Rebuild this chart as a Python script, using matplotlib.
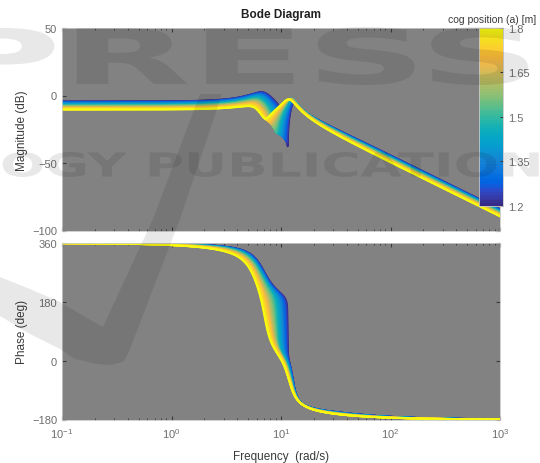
import numpy as np
import matplotlib.pyplot as plt
from matplotlib.colors import ListedColormap, Normalize
from matplotlib.cm import ScalarMappable
from matplotlib.textpath import TextPath
from matplotlib.font_manager import FontProperties
from matplotlib.patches import PathPatch, Polygon
from matplotlib.path import Path

plt.rcParams['font.family'] = ['Liberation Sans', 'DejaVu Sans']
plt.rcParams['mathtext.fontset'] = 'custom'
plt.rcParams['mathtext.rm'] = 'Liberation Sans'
plt.rcParams['mathtext.default'] = 'regular'

# cog positions in the colour bar
cog_pos = np.round(np.arange(1.20, 1.8001, 0.01), 2)

# transfer function parameters at three cog positions
knot_pos = [1.2, 1.5, 1.8]
dc_db = [-4.4, -7.4, -10.5]
w_p1 = [7.0, 6.5, 6.0]
zeta_p1 = [0.22, 0.22, 0.22]
w_z = [11.5, 9.0, 7.1]
zeta_z = [0.004, 0.025, 0.10]
w_p2 = [12.8, 12.3, 11.8]
zeta_p2 = [0.07, 0.10, 0.13]
lead_w = 15.0
lead_ratio = [1.68, 1.40, 1.12]

cbar_ticks = [1.2, 1.35, 1.5, 1.65, 1.8]
x_ticks = [0.1, 1, 10, 100, 1000]
x_labels = ['$10^{-1}$', '$10^{0}$', '$10^{1}$', '$10^{2}$', '$10^{3}$']
mag_ticks = [-100, -50, 0, 50]
phase_ticks = [-180, 0, 180, 360]

# MATLAB parula
parula = [
    [0.2081, 0.1663, 0.5292], [0.2116, 0.1898, 0.5777], [0.2123, 0.2138, 0.6270],
    [0.2081, 0.2386, 0.6771], [0.1959, 0.2645, 0.7279], [0.1707, 0.2919, 0.7792],
    [0.1253, 0.3242, 0.8303], [0.0591, 0.3598, 0.8683], [0.0117, 0.3875, 0.8820],
    [0.0060, 0.4086, 0.8828], [0.0165, 0.4266, 0.8786], [0.0329, 0.4430, 0.8720],
    [0.0498, 0.4586, 0.8641], [0.0629, 0.4737, 0.8554], [0.0723, 0.4887, 0.8467],
    [0.0779, 0.5040, 0.8384], [0.0793, 0.5200, 0.8312], [0.0749, 0.5375, 0.8263],
    [0.0641, 0.5570, 0.8240], [0.0488, 0.5772, 0.8228], [0.0343, 0.5966, 0.8199],
    [0.0265, 0.6137, 0.8135], [0.0239, 0.6287, 0.8038], [0.0231, 0.6418, 0.7913],
    [0.0228, 0.6535, 0.7768], [0.0267, 0.6642, 0.7607], [0.0384, 0.6743, 0.7436],
    [0.0590, 0.6838, 0.7254], [0.0843, 0.6928, 0.7062], [0.1133, 0.7015, 0.6859],
    [0.1453, 0.7098, 0.6646], [0.1801, 0.7177, 0.6424], [0.2178, 0.7250, 0.6193],
    [0.2586, 0.7317, 0.5954], [0.3022, 0.7376, 0.5712], [0.3482, 0.7424, 0.5473],
    [0.3953, 0.7459, 0.5244], [0.4420, 0.7481, 0.5033], [0.4871, 0.7491, 0.4840],
    [0.5300, 0.7491, 0.4661], [0.5709, 0.7485, 0.4494], [0.6099, 0.7473, 0.4337],
    [0.6473, 0.7456, 0.4188], [0.6834, 0.7435, 0.4044], [0.7184, 0.7411, 0.3905],
    [0.7525, 0.7384, 0.3768], [0.7858, 0.7356, 0.3633], [0.8185, 0.7327, 0.3498],
    [0.8507, 0.7299, 0.3360], [0.8824, 0.7274, 0.3217], [0.9139, 0.7258, 0.3063],
    [0.9450, 0.7261, 0.2886], [0.9739, 0.7314, 0.2666], [0.9938, 0.7455, 0.2403],
    [0.9990, 0.7653, 0.2164], [0.9955, 0.7861, 0.1967], [0.9880, 0.8066, 0.1794],
    [0.9789, 0.8271, 0.1633], [0.9697, 0.8481, 0.1475], [0.9626, 0.8705, 0.1309],
    [0.9589, 0.8949, 0.1132], [0.9598, 0.9218, 0.0948], [0.9661, 0.9514, 0.0755],
    [0.9763, 0.9831, 0.0538]]
cmap = ListedColormap(parula)
norm = Normalize(1.2, 1.8)

W, H = 540, 464
def box(l, t, r, b):
    return [l / W, 1 - b / H, (r - l) / W, (b - t) / H]

fig = plt.figure(figsize=(W / 100, H / 100), dpi=100)
ax1 = fig.add_axes(box(62, 29, 500, 231.5))
ax2 = fig.add_axes(box(62, 244, 500, 420.5))

w = np.logspace(-1, 3, 4000)
s = 1j * w
for a in cog_pos:
    dc = np.interp(a, knot_pos, dc_db)
    w1 = np.interp(a, knot_pos, w_p1)
    z1 = np.interp(a, knot_pos, zeta_p1)
    wz = np.interp(a, knot_pos, w_z)
    zz = np.interp(a, knot_pos, zeta_z)
    w2 = np.interp(a, knot_pos, w_p2)
    z2 = np.interp(a, knot_pos, zeta_p2)
    lr = np.interp(a, knot_pos, lead_ratio)
    G = (s**2 - 2 * zz * wz * s + wz**2) / ((s**2 + 2 * z1 * w1 * s + w1**2) * (s**2 + 2 * z2 * w2 * s + w2**2))
    G = G * (1 + s / lead_w) / (1 + s / (lead_w * lr))
    G = G * 10 ** (dc / 20) * (w1**2 * w2**2) / wz**2
    mag = 20 * np.log10(np.abs(G))
    ph = np.degrees(np.unwrap(np.angle(G))) + 360
    c = cmap(norm(a))
    ax1.semilogx(w, mag, color=c, lw=1.3)
    ax2.semilogx(w, ph, color=c, lw=1.3)

for ax in (ax1, ax2):
    ax.set_facecolor('#828282')
    ax.set_xlim(0.1, 1000)
    ax.set_xticks(x_ticks)
    ax.tick_params(which='both', direction='in', top=True, right=True, color='#3a3a3a',
                   labelcolor='#6e6e6e', labelsize=8)
    ax.tick_params(which='major', length=3)
    ax.tick_params(which='minor', length=1.5)
    ax.tick_params(axis='x', pad=5)
    for sp in ax.spines.values():
        sp.set_color('#c8c8c8')
        sp.set_linewidth(0.6)

ax1.set_ylim(-100, 50)
ax1.set_yticks(mag_ticks)
ax1.set_xticklabels([])
ax1.set_ylabel('Magnitude (dB)', color='#3a3a3a', fontsize=8.5)
ax1.yaxis.set_label_coords(-0.078, 0.5)

ax2.set_ylim(-180, 360)
ax2.set_yticks(phase_ticks)
ax2.set_xticklabels(x_labels)
ax2.set_ylabel('Phase (deg)', color='#3a3a3a', fontsize=8.5)
ax2.yaxis.set_label_coords(-0.078, 0.5)
ax2.set_xlabel('Frequency  (rad/s)', color='#3a3a3a', fontsize=8.5, labelpad=7)

fig.text(281 / W, 1 - 15 / H, 'Bode Diagram', ha='center', va='center', fontsize=8.5,
         fontweight='bold', color='#202020')

cax = fig.add_axes(box(479, 29, 503, 207))
cb = fig.colorbar(ScalarMappable(norm=norm, cmap=cmap), cax=cax, ticks=cbar_ticks)
cb.ax.set_yticklabels(['1.2', '1.35', '1.5', '1.65', '1.8'])
cb.ax.tick_params(direction='in', length=2, color='#3a3a3a', labelcolor='#6e6e6e', labelsize=8)
cb.outline.set_edgecolor('#c8c8c8')
cb.outline.set_linewidth(0.6)
fig.text(536 / W, 1 - 20 / H, 'cog position (a) [m]', ha='right', va='center', fontsize=7.5,
         color='#3a3a3a')

# publisher watermark laid over the whole page
def px_path(text, weight, l, t, r, b):
    tp = TextPath((0, 0), text, size=100, prop=FontProperties(family='DejaVu Sans', weight=weight))
    v = tp.vertices.copy()
    x0, y0 = v.min(axis=0)
    x1, y1 = v.max(axis=0)
    v[:, 0] = (l + (v[:, 0] - x0) / (x1 - x0) * (r - l)) / W
    v[:, 1] = 1 - (b - (v[:, 1] - y0) / (y1 - y0) * (b - t)) / H
    return Path(v, tp.codes)

wm = dict(transform=fig.transFigure, facecolor='black', alpha=0.09, lw=0, zorder=50)
fig.add_artist(PathPatch(px_path('PRESS', 'bold', -62, 28, 528, 86), **wm))
fig.add_artist(PathPatch(px_path('OGY PUBLICATIONS', 'bold', 0, 153, 578, 178), **wm))
swoosh = [(0, 278), (30, 290), (60, 303), (85, 318), (103, 328), (153, 220), (200, 95),
          (222, 95), (180, 220), (128, 355), (123, 363), (110, 366), (97, 365), (75, 360),
          (60, 350), (30, 335), (0, 317)]
fig.add_artist(Polygon([(x / W, 1 - y / H) for x, y in swoosh], closed=True, **wm))

fig.savefig('out.png', dpi=100, facecolor='white')
